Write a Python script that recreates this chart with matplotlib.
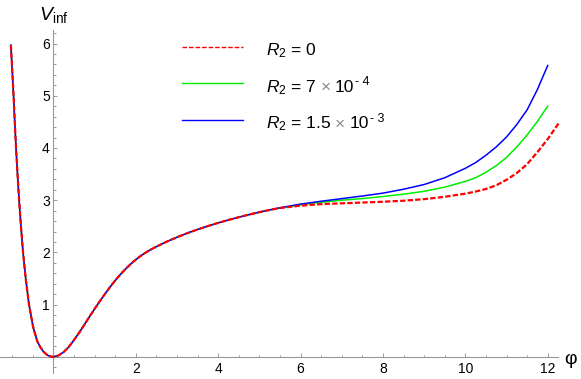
import numpy as np
import matplotlib
matplotlib.use("Agg")
import matplotlib.pyplot as plt
from matplotlib.lines import Line2D
from matplotlib.transforms import IdentityTransform
from matplotlib.ticker import FixedLocator, NullFormatter

plt.rcParams['font.family'] = ['Liberation Sans', 'DejaVu Sans']
plt.rcParams['mathtext.fontset'] = 'custom'
plt.rcParams['mathtext.rm'] = 'Liberation Sans'
plt.rcParams['mathtext.it'] = 'Liberation Sans:italic'
plt.rcParams['mathtext.sf'] = 'Liberation Sans'

# ---- data ----
# part shared by all three curves
phi_common = [-1.03, -0.998, -0.965, -0.936, -0.905, -0.869, -0.83, -0.785, -0.735, -0.67,
              -0.59, -0.49, -0.39, -0.32, -0.23, -0.14, -0.06, 0.0,
              0.125, 0.25, 0.375, 0.5, 0.625, 0.75, 0.875, 1.0, 1.125, 1.25, 1.375, 1.5,
              1.625, 1.75, 1.875, 2.0, 2.125, 2.25, 2.375, 2.5, 2.75, 3.0, 3.25, 3.5, 3.75,
              4.0, 4.25, 4.5, 4.75, 5.0, 5.25]
v_common = [5.97, 5.5, 5.0, 4.5, 4.0, 3.5, 3.0, 2.5, 2.0, 1.5,
            1.0, 0.57, 0.30, 0.19, 0.09, 0.03, 0.005, 0.0,
            0.025, 0.09, 0.19, 0.32, 0.46, 0.61, 0.765, 0.915, 1.06, 1.20, 1.335, 1.46,
            1.575, 1.68, 1.775, 1.86, 1.935, 2.0, 2.058, 2.11, 2.205, 2.29, 2.368, 2.439, 2.504,
            2.565, 2.621, 2.674, 2.724, 2.77, 2.813]

phi_tail = [5.5, 6.0, 6.5, 7.0, 7.5, 8.0, 8.5, 9.0, 9.5, 10.0, 10.25, 10.5, 10.75,
            11.0, 11.25, 11.5, 11.75, 12.0]
v_blue_tail = [2.855, 2.925, 2.98, 3.03, 3.08, 3.135, 3.21, 3.30, 3.43, 3.61, 3.72, 3.86,
               4.02, 4.21, 4.45, 4.73, 5.12, 5.58]
v_green_tail = [2.852, 2.91, 2.96, 3.0, 3.03, 3.07, 3.115, 3.17, 3.25, 3.36, 3.43, 3.535,
                3.66, 3.82, 4.02, 4.25, 4.51, 4.80]
phi_red_tail = phi_tail + [12.14, 12.28]
v_red_tail = [2.85, 2.895, 2.925, 2.94, 2.955, 2.97, 2.99, 3.02, 3.065, 3.125, 3.165, 3.215,
              3.285, 3.39, 3.52, 3.69, 3.92, 4.17, 4.33, 4.49]

x_ticks = [2, 4, 6, 8, 10, 12]
y_ticks = [1, 2, 3, 4, 5, 6]

W, H = 581, 379
fig = plt.figure(figsize=(W / 100, H / 100), dpi=100)
ax = fig.add_axes([0, 6 / H, 558 / W, 343 / H])
ax.set_xlim(-1.294, 12.25)
ax.set_ylim(-0.31, 6.26)

gray = '#9a9a9a'
for s in ['top', 'right']:
    ax.spines[s].set_visible(False)
ax.spines['left'].set_position(('data', 0))
ax.spines['bottom'].set_position(('data', 0))
for s in ['left', 'bottom']:
    ax.spines[s].set_color(gray)
    ax.spines[s].set_linewidth(0.8)

ax.xaxis.set_major_locator(FixedLocator(x_ticks))
ax.yaxis.set_major_locator(FixedLocator(y_ticks))
ax.xaxis.set_minor_locator(FixedLocator([v for v in np.arange(-1.0, 12.01, 0.5) if v not in x_ticks and v != 0]))
ax.yaxis.set_minor_locator(FixedLocator([round(v, 1) for v in np.arange(-0.2, 6.21, 0.2) if abs(v - round(v)) > 1e-6]))
ax.xaxis.set_minor_formatter(NullFormatter())
ax.yaxis.set_minor_formatter(NullFormatter())
ax.tick_params(which='both', direction='in', color=gray, width=0.7, labelsize=10)
ax.tick_params(which='major', length=3.2)
ax.tick_params(which='minor', length=1.8)
ax.tick_params(axis='x', pad=4)
ax.tick_params(axis='y', pad=2.5)

ax.plot(phi_common + phi_tail, v_common + v_green_tail, color='#00ee00', lw=1.1,
        clip_on=False, zorder=3)
ax.plot(phi_common + phi_tail, v_common + v_blue_tail, color='#0000ff', lw=1.1,
        clip_on=False, zorder=4)
ax.plot(phi_common + phi_red_tail, v_common + v_red_tail, color='#ff0000', lw=1.6,
        linestyle=(0, (2.4, 1.0)), clip_on=False, zorder=5)

# axis labels
fig.text(39 / W, 1 - 20 / H, r'$V_{\mathrm{inf}}$', fontsize=14, va='baseline', ha='left')
fig.text(564 / W, 1 - 360 / H, 'φ', fontsize=14, va='center', ha='left')

# legend (manual, rich text so that the × can be grey)
rows = [('#ff0000', (0, (3.3, 1.4)), 46.7,
         [('$R_2$ = 0', 'k', 12.5, 0, 0)]),
        ('#00ee00', '-', 83.3,
         [('$R_2$ = 7', 'k', 12.5, 0, 4), ('×', '#8a8a8a', 12.5, 0, 4), ('10', 'k', 12.5, 0, 1),
          ('- 4', 'k', 9, 6.5, 0)]),
        ('#0000ff', '-', 120,
         [('$R_2$ = 1.5', 'k', 12.5, 0, 4), ('×', '#8a8a8a', 12.5, 0, 4), ('10', 'k', 12.5, 0, 1),
          ('- 3', 'k', 9, 6.5, 0)])]
fig.canvas.draw()
renderer = fig.canvas.get_renderer()
for color, ls, ypx, pieces in rows:
    fig.add_artist(Line2D([181.7 / W, 242.7 / W], [1 - ypx / H, 1 - ypx / H],
                          color=color, lw=1.0, linestyle=ls))
    x = 266.0
    base = H - (ypx + 8.5)
    for s, c, fs, dy, gap in pieces:
        t = fig.text(x, base + dy, s, color=c, fontsize=fs, va='baseline', ha='left',
                     transform=IdentityTransform())
        bb = t.get_window_extent(renderer)
        x = bb.x1 + gap

fig.savefig('out.png', dpi=100)
